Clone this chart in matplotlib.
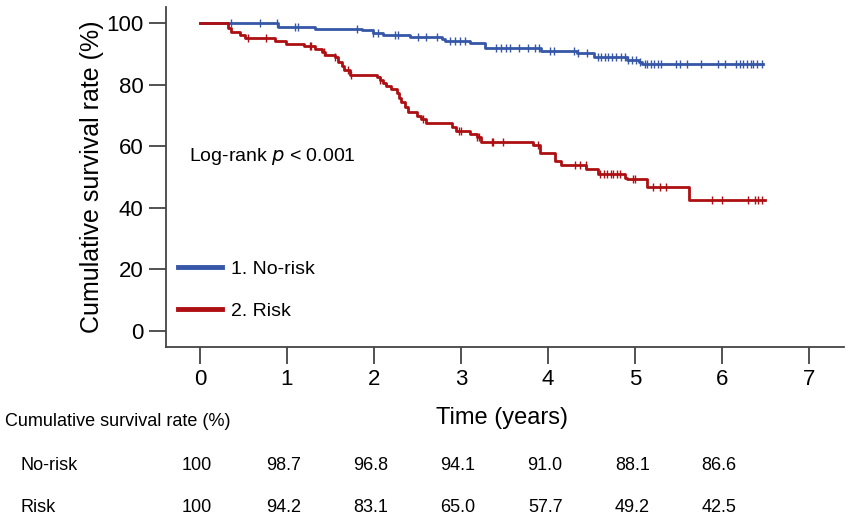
import numpy as np
import matplotlib
matplotlib.use("Agg")
import matplotlib.pyplot as plt

plt.rcParams['font.family'] = ['Liberation Sans', 'DejaVu Sans']

# Kaplan-Meier steps (time in years, survival in %)
t_norisk = [0, 0.90, 1.32, 1.86, 1.99, 2.10, 2.41, 2.78, 2.81, 3.10, 3.27, 3.92,
            4.33, 4.53, 4.90, 5.04, 5.08]
s_norisk = [100, 98.7, 98.1, 97.6, 96.8, 96.2, 95.6, 94.8, 94.1, 93.5, 91.8, 91.0,
            90.2, 89.1, 88.1, 87.2, 86.6]
end_norisk = 6.47

t_risk = [0, 0.32, 0.36, 0.46, 0.52, 0.86, 0.99, 1.19, 1.32, 1.40, 1.44, 1.55, 1.59,
          1.63, 1.66, 1.72, 2.03, 2.07, 2.10, 2.14, 2.20, 2.26, 2.29, 2.31, 2.35, 2.39,
          2.49, 2.54, 2.60, 2.89, 2.94, 3.10, 3.18, 3.23, 3.83, 3.91, 4.08, 4.15, 4.44,
          4.57, 4.88, 4.90, 5.14, 5.62]
s_risk = [100, 98.3, 97.2, 96.2, 95.1, 94.2, 93.2, 92.4, 91.5, 90.7, 89.7, 89.1, 87.5,
          85.9, 84.8, 83.1, 82.6, 81.5, 80.5, 79.4, 78.5, 77.2, 75.6, 74.2, 72.6, 71.2,
          69.8, 68.7, 67.4, 66.3, 65.0, 64.0, 62.9, 61.5, 60.4, 57.7, 55.3, 53.9, 52.5,
          51.0, 49.6, 49.2, 46.6, 42.5]
end_risk = 6.49

# censored observations
c_norisk = [0.36, 0.69, 0.88, 1.09, 1.13, 1.80, 1.99, 2.05, 2.24, 2.28, 2.50, 2.60,
            2.72, 2.87, 2.93, 2.99, 3.04, 3.40, 3.46, 3.51, 3.56, 3.67, 3.77, 3.85,
            3.90, 4.02, 4.07, 4.30, 4.34, 4.45, 4.57, 4.61, 4.65, 4.69, 4.73, 4.78,
            4.84, 4.88, 4.92, 4.96, 5.01, 5.05, 5.11, 5.14, 5.18, 5.22, 5.26, 5.30,
            5.47, 5.51, 5.59, 5.76, 5.95, 6.03, 6.16, 6.20, 6.24, 6.28, 6.33, 6.35,
            6.40, 6.46]
c_risk = [0.55, 0.76, 1.26, 1.28, 1.42, 1.55, 1.70, 1.74, 2.07, 2.56, 2.98, 3.00,
          3.18, 3.21, 3.35, 3.37, 3.48, 3.88, 4.31, 4.37, 4.43, 4.60, 4.64, 4.68,
          4.72, 4.75, 4.79, 4.83, 4.97, 5.00, 5.20, 5.28, 5.35, 5.88, 6.00, 6.29,
          6.37, 6.41, 6.46]

# table under the plot
table_years = [0, 1, 2, 3, 4, 5, 6]
tab_norisk = ['100', '98.7', '96.8', '94.1', '91.0', '88.1', '86.6']
tab_risk = ['100', '94.2', '83.1', '65.0', '57.7', '49.2', '42.5']

blue = '#3657a7'
red = '#ae0f12'
spine_col = '#444444'


def surv_at(times, surv, x):
    idx = np.searchsorted(times, x, side='right') - 1
    return np.array(surv)[idx]


fig = plt.figure(figsize=(8.51, 5.22), dpi=100)
ax = fig.add_axes([0.195, 0.335, 0.797, 0.652])

ax.step(t_norisk + [end_norisk], s_norisk + [s_norisk[-1]], where='post',
        color=blue, lw=2.0, label='1. No-risk')
ax.step(t_risk + [end_risk], s_risk + [s_risk[-1]], where='post',
        color=red, lw=2.0, label='2. Risk')
ax.plot(c_norisk, surv_at(t_norisk, s_norisk, c_norisk), ls='none', marker='|',
        ms=6, mew=1.0, color=blue)
ax.plot(c_risk, surv_at(t_risk, s_risk, c_risk), ls='none', marker='|',
        ms=6, mew=1.0, color=red)

ax.set_xlim(-0.39, 7.40)
ax.set_ylim(-5.3, 105.3)
ax.set_xticks(range(0, 8))
ax.set_yticks(range(0, 101, 20))
ax.tick_params(direction='out', length=12, width=1.3, color=spine_col,
               labelsize=16, pad=4)
for side in ['top', 'right']:
    ax.spines[side].set_visible(False)
for side in ['left', 'bottom']:
    ax.spines[side].set_color(spine_col)
    ax.spines[side].set_linewidth(1.3)

ax.set_ylabel('Cumulative survival rate (%)', fontsize=18, labelpad=2)

ax.text(-0.12, 56.5, 'Log-rank $p$ < 0.001', fontsize=14, va='center',
        ha='left', math_fontfamily='custom')

leg = ax.legend(loc='lower left', bbox_to_anchor=(0.0, 0.045), frameon=False,
                fontsize=14, handlelength=2.3, handletextpad=0.45,
                labelspacing=1.25, borderaxespad=0.2)
for line in leg.get_lines():
    line.set_linewidth(3.5)

# xlabel and survival table in figure pixel coordinates
fig.text(502 / 851, 1 - 418 / 522, 'Time (years)', fontsize=17,
         ha='center', va='center')
fig.text(5 / 851, 1 - 421 / 522, 'Cumulative survival rate (%)', fontsize=13,
         ha='left', va='center')
fig.text(20 / 851, 1 - 466 / 522, 'No-risk', fontsize=13, ha='left', va='center')
fig.text(20 / 851, 1 - 508 / 522, 'Risk', fontsize=13, ha='left', va='center')
for yr, a, b in zip(table_years, tab_norisk, tab_risk):
    xf = ax.transData.transform((yr, 0))[0] / fig.bbox.width - 3 / 851
    fig.text(xf, 1 - 466 / 522, a, fontsize=13, ha='center', va='center')
    fig.text(xf, 1 - 508 / 522, b, fontsize=13, ha='center', va='center')

fig.savefig('out.png', dpi=100)
